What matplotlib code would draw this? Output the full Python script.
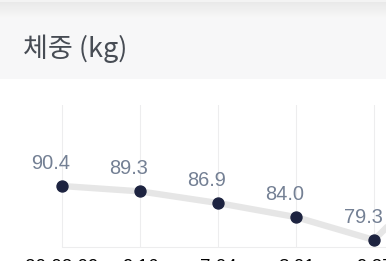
import numpy as np
import matplotlib
matplotlib.use("Agg")
import matplotlib.pyplot as plt

# data
dates = ["20.02.09", "9.16", "7.04", "8.01", "9.27", "10.1"]
weights = [90.4, 89.3, 86.9, 84.0, 79.3, 95.3]
title = "체중 (kg)"

W, H = 386, 261
plt.rcParams['font.family'] = ['Liberation Sans', 'Noto Sans CJK KR', 'DejaVu Sans']

fig = plt.figure(figsize=(W / 100, H / 100), dpi=100)
fig.patch.set_facecolor("white")

# background: header band with a soft shadow on top
bg = fig.add_axes([0, 0, 1, 1])
bg.set_xlim(0, W)
bg.set_ylim(H, 0)
bg.axis("off")
bg.add_patch(plt.Rectangle((0, 0), W, 79, color="#f7f7f8", lw=0))
grad = np.linspace(0, 1, 16)[:, None]
shade = np.dstack([0.915 + 0.055 * grad] * 3)
bg.imshow(shade, extent=(0, W, 18, 2), aspect="auto", zorder=1)
bg.add_patch(plt.Rectangle((0, 0), W, 2, color="#f3f3f3", lw=0, zorder=2))

fig.text(23 / W, 1 - 57 / H, title, fontsize=19.5, color="#474c54",
         family=['Noto Sans CJK KR', 'DejaVu Sans'], va="baseline", ha="left")

# chart area in pixel terms: x = 62 + 78*i, y bottom 247, top 105
px_per_kg = 4.86
y_bot = 90.4 - (247 - 186) / px_per_kg
y_top = 90.4 + (186 - 105) / px_per_kg
ax = fig.add_axes([0, (H - 247) / H, 1, (247 - 105) / H])
ax.set_facecolor("none")

x = np.arange(len(weights))
ax.plot(x, weights, color="#e6e6e6", lw=4.6, solid_capstyle="round", zorder=2)
ax.plot(x, weights, "o", color="#1d2340", ms=7.9, zorder=3)

for xi, v in zip(x, weights):
    ax.annotate(f"{v:.1f}", (xi, v), xytext=(-11, 17), textcoords="offset pixels",
                ha="center", va="baseline", fontsize=14.4, color="#748094")

ax.set_xticks(x)
ax.set_xticklabels(dates, fontsize=13.5, color="black")
ax.tick_params(axis="x", length=0, pad=8.8)
ax.set_yticks([])
ax.set_xlim(-62 / 78, (W - 62) / 78)
ax.set_ylim(y_bot, y_top)
ax.grid(axis="x", color="#ededee", lw=0.8)
for s in ["top", "left", "right"]:
    ax.spines[s].set_visible(False)
ax.spines["bottom"].set_color("#ededee")
ax.spines["bottom"].set_linewidth(0.8)
ax.spines["bottom"].set_bounds(0, len(weights) - 1)

fig.savefig("out.png", dpi=100)
